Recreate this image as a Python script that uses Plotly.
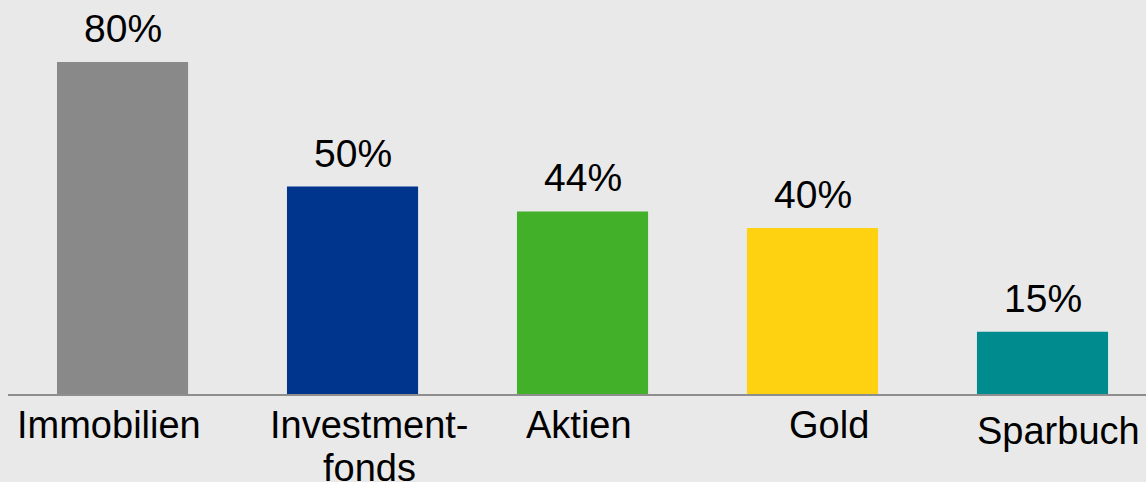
import plotly.graph_objects as go

categories = ["Immobilien", "Investmentfonds", "Aktien", "Gold", "Sparbuch"]
cat_labels = ["Immobilien", "Investment-<br>fonds", "Aktien", "Gold", "Sparbuch"]
values = [80, 50, 44, 40, 15]
value_labels = ["80%", "50%", "44%", "40%", "15%"]
colors = ["#898989", "#00358e", "#43b02a", "#fed211", "#008c8e"]

# label styling offsets (pixels)
label_dx = [-14, 17, -4, 16, 16]
label_dy = [0, 0, 0, 0, 6]

FONT = "Liberation Sans, Arial, sans-serif"
BG = "#e9e9e9"

fig = go.Figure()
fig.add_trace(go.Bar(
    x=categories, y=values,
    marker=dict(color=colors, line=dict(width=0)),
    width=0.57,
    hoverinfo="skip",
))

annotations = []
for c, v, t in zip(categories, values, value_labels):
    annotations.append(dict(
        x=c, y=v, xref="x", yref="y", text=t, showarrow=False,
        xanchor="center", yanchor="bottom", yshift=10,
        font=dict(family=FONT, size=39, color="#000000"),
    ))
for c, lab, dx, dy in zip(categories, cat_labels, label_dx, label_dy):
    for k, line in enumerate(lab.split("<br>")):
        annotations.append(dict(
            x=c, y=0, xref="x", yref="paper", text=line, showarrow=False,
            xanchor="center", yanchor="top", xshift=dx,
            yshift=-7.6 - dy - 43 * k,
            font=dict(family=FONT, size=38, color="#000000"),
        ))

fig.update_layout(
    width=1146, height=482,
    margin=dict(l=8, r=0, t=0, b=88),
    paper_bgcolor=BG, plot_bgcolor=BG,
    showlegend=False,
    bargap=0.43,
    xaxis=dict(
        range=[-0.498, 4.45], showticklabels=False, ticks="",
        showgrid=False, zeroline=False,
        showline=True, linecolor="#8e8e8e", linewidth=2,
        fixedrange=True,
    ),
    yaxis=dict(
        range=[0, 94.94], visible=False, showgrid=False, zeroline=False,
        fixedrange=True,
    ),
    annotations=annotations,
)

fig.write_html(
    "out.html",
    config={"displayModeBar": False},
    post_script="document.body.style.margin='0';document.body.style.overflow='hidden';",
)
